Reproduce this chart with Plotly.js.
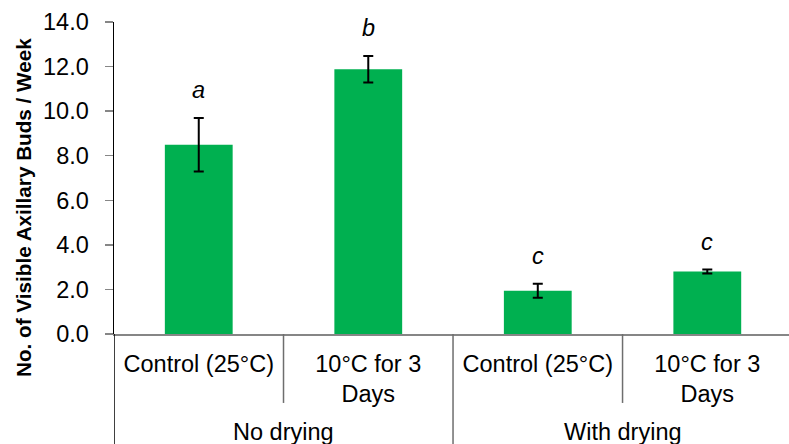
<!DOCTYPE html>
<html>
<head>
<meta charset="utf-8">
<script src="https://cdn.plot.ly/plotly-3.0.1.min.js"></script>
<style>html,body{margin:0;padding:0;background:#fff;}#chart{width:789px;height:444px;}</style>
</head>
<body>
<div id="chart"></div>
<script>
// ---- data ----
var groups = ["No drying", "No drying", "With drying", "With drying"];
var groupNames = ["No drying", "With drying"];
var treatments = ["Control (25°C)", "10°C for 3<br>Days", "Control (25°C)", "10°C for 3<br>Days"];
var budsPerWeek = [8.49, 11.88, 1.94, 2.80];
var stdErr = [1.20, 0.59, 0.31, 0.09];
var letters = ["a", "b", "c", "c"];
var yTickVals = [0, 2, 4, 6, 8, 10, 12, 14];
var yAxisTitle = "No. of Visible Axillary Buds / Week";

// ---- build ----
var FONT = 'Arial, "Liberation Sans", sans-serif';
var FS = 23.5;
var idx = treatments.map(function (_, i) { return i; });

var trace = {
  type: 'bar',
  x: idx,
  y: budsPerWeek,
  marker: { color: '#00b050', line: { width: 0 } },
  error_y: { type: 'data', array: stdErr, visible: true, color: '#000000', thickness: 2, width: 5 },
  hoverinfo: 'none'
};

var annotations = [];
letters.forEach(function (t, i) {
  annotations.push({
    x: i, y: budsPerWeek[i] + stdErr[i], xref: 'x', yref: 'y',
    text: '<i>' + t + '</i>', showarrow: false,
    yanchor: 'middle', yshift: 28,
    font: { family: FONT, size: FS, color: '#000' }
  });
});
groupNames.forEach(function (g) {
  var members = idx.filter(function (i) { return groups[i] === g; });
  var cx = (members[0] + members[members.length - 1]) / 2;
  annotations.push({
    x: cx, y: -0.314, xref: 'x', yref: 'paper',
    text: g, showarrow: false, yanchor: 'middle',
    font: { family: FONT, size: FS, color: '#000' }
  });
});
annotations.push({
  x: (23.5 - 114) / 675, xref: 'paper', y: (334 - 207.5) / 312, yref: 'paper',
  text: '<b>' + yAxisTitle + '</b>', textangle: -90, showarrow: false,
  xanchor: 'center', yanchor: 'middle',
  font: { family: FONT, size: 20.7, color: '#000' }
});

var shapes = [];
// dividers between categories
for (var k = 0; k <= treatments.length; k++) {
  var xb = k - 0.5;
  var isGroupEdge = (k === 0 || k === treatments.length || groups[k] !== groups[k - 1]);
  shapes.push({
    type: 'line', xref: 'x', yref: 'paper',
    x0: xb, x1: xb, y0: 0, y1: isGroupEdge ? -0.36 : -0.221,
    line: { color: k === 0 ? '#000000' : '#6e6e6e', width: 1.5 }
  });
}

var layout = {
  width: 789, height: 444,
  margin: { l: 114, r: 0, t: 22, b: 110 },
  paper_bgcolor: '#fff', plot_bgcolor: '#fff',
  showlegend: false,
  bargap: 0.6,
  font: { family: FONT, size: FS, color: '#000' },
  xaxis: {
    range: [-0.5, 3.482],
    tickmode: 'array', tickvals: idx, ticktext: treatments,
    ticks: '', showgrid: false, zeroline: false,
    showline: true, linecolor: '#868686', linewidth: 1.5,
    tickfont: { family: FONT, size: FS, color: '#000' },
    ticklabelstandoff: 8
  },
  yaxis: {
    range: [0, 14],
    tickmode: 'array', tickvals: yTickVals, tickformat: '.1f',
    ticks: 'outside', ticklen: 8, tickcolor: '#868686', tickwidth: 1.5,
    showgrid: false, zeroline: false,
    showline: true, linecolor: '#000000', linewidth: 1.5,
    tickfont: { family: FONT, size: FS, color: '#000' },
    ticklabelstandoff: 11
  },
  annotations: annotations,
  shapes: shapes
};

Plotly.newPlot('chart', [trace], layout, { displayModeBar: false, staticPlot: true });
</script>
</body>
</html>
